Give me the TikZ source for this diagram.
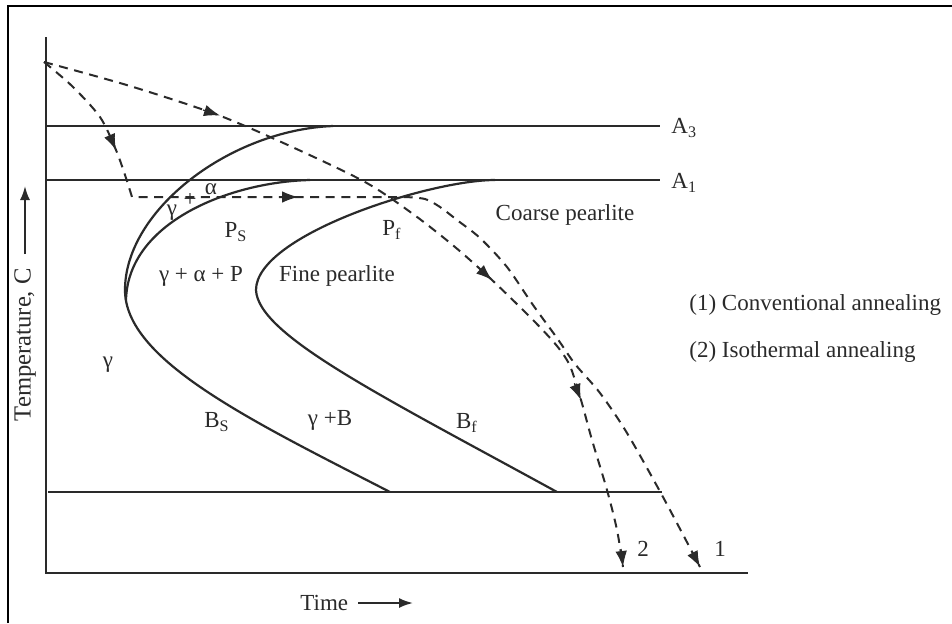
\documentclass[tikz,border=0pt]{standalone}
\usepackage{fontspec}
\setmainfont{Liberation Serif}
\usetikzlibrary{arrows.meta}
\definecolor{ink}{HTML}{2A2A2A}
\begin{document}
\begin{tikzpicture}[x=0.5pt,y=-0.5pt,
  ln/.style={line width=1.1pt, draw=ink},
  dsh/.style={line width=1pt, draw=ink, dash pattern=on 4.5pt off 3.3pt},
  tip/.style={draw=ink, fill=ink, line width=0.6pt, -{Latex[length=8pt,width=5.8pt]}},
  axarrow/.style={line width=1pt, draw=ink, -{Latex[length=7pt,width=5pt]}},
  lbl/.style={text=ink, font=\fontsize{11.5}{13}\selectfont, inner sep=0pt},
]
\useasboundingbox[fill=white] (0,0) rectangle (952,623);
% frame
\draw[line width=1.3pt, black] (8,623) -- (8,6) -- (952,6);

% axes and horizontal lines
\coordinate (ytop) at (46,37);
\coordinate (orig) at (46,573);
\coordinate (xend) at (748,573);
\draw[ln] (ytop) -- (orig) -- (xend);
\draw[ln] (46,126) coordinate (a3s) -- (660,126) coordinate (a3e);
\draw[ln] (46,180) coordinate (a1s) -- (660,180) coordinate (a1e);
\draw[ln] (48,492) coordinate (mss) -- (662,492) coordinate (mse);
\node[lbl, anchor=west] (lA3) at (671,128) {A\textsubscript{3}};
\node[lbl, anchor=west] (lA1) at (671,183) {A\textsubscript{1}};

% transformation curves
\draw[ln] (333,126) .. controls (230,130) and (125,210) .. (125,290)
          .. controls (125,360) and (250,420) .. (390,492);
\draw[ln] (310,180) .. controls (230,182) and (128,222) .. (126,300);
\draw[ln] (495,180) .. controls (430,180) and (256,235) .. (256,290)
          .. controls (258,335) and (380,395) .. (557,492);

% cooling path ending at 2
\draw[dsh] plot[smooth, tension=0.5] coordinates {(44,62) (130,86) (218,115) (290,146) (365,182) (413,214) (455,247) (492,280) (533,320) (557,346) (570,366) (581,400) (592,440) (607,490) (617,530) (623,567)};
% cooling path ending at 1
\draw[dsh] plot[smooth, tension=0.5] coordinates {(44,62) (72,86) (100,117) (116,150) (126,178) (132,197)}
   -- (405,197)
   -- plot[smooth, tension=0.5] coordinates {(405,197) (425,199) (440,207) (457,220) (480,238) (507,267) (533,305) (557,338) (575,364) (600,393) (627,433) (663,497) (700,567)};

% arrow tips on the paths
\draw[tip] (203,110) -- (220,115.5);
\draw[tip] (478.6,268) -- (492,280);
\draw[tip] (574.3,383.3) -- (581,400);
\draw[tip] (621,549) -- (623,567);
\draw[tip] (108.8,133.5) -- (116,150);
\draw[tip] (280,197) -- (298,197);
\draw[tip] (691.6,551) -- (700,567);
\node[lbl] (n2) at (643,549) {2};
\node[lbl] (n1) at (720,549) {1};

% region labels
\node[lbl] (g1) at (172,213) {γ};
\node[lbl] (pl) at (190,200) {+};
\node[lbl] (al) at (211,189) {α};
\node[lbl] (ps) at (236,232) {P\textsubscript{S}};
\node[lbl] (pf) at (392,230) {P\textsubscript{f}};
\node[lbl] (gap) at (201,276) {γ + α + P};
\node[lbl] (fine) at (337,276) {Fine pearlite};
\node[lbl] (coarse) at (565,215) {Coarse pearlite};
\node[lbl] (g2) at (108,365) {γ};
\node[lbl] (bs) at (217,422) {B\textsubscript{S}};
\node[lbl] (gb) at (330,420) {γ +B};
\node[lbl] (bf) at (467,423) {B\textsubscript{f}};

% legend
\node[lbl, anchor=west] (leg1) at (689,305) {(1) Conventional annealing};
\node[lbl, anchor=west] (leg2) at (689,352) {(2) Isothermal annealing};

% axis labels
\node[lbl, font=\fontsize{12.3}{14}\selectfont, rotate=90, anchor=east] (templbl) at (25,268) {Temperature, C};
\coordinate (tempend) at (25,186);
\draw[axarrow] (25,254) -- (tempend);
\node[lbl, anchor=west] (timelbl) at (300,603) {Time};
\coordinate (timeend) at (413,603);
\draw[axarrow] (358,603) -- (timeend);
\end{tikzpicture}
\end{document}
